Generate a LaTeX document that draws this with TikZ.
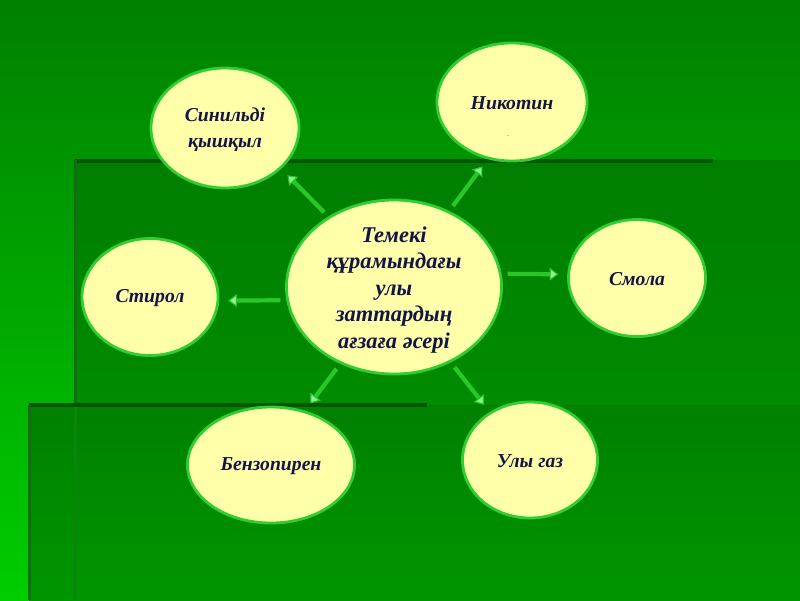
\documentclass[tikz,border=0pt]{standalone}
\usepackage{fontspec}
\setmainfont{Liberation Serif}
\usetikzlibrary{positioning}
\usetikzlibrary{arrows.meta}
\usetikzlibrary{shapes.geometric}

\definecolor{bgdark}{RGB}{0,128,0}
\definecolor{bglight}{RGB}{0,205,0}
\definecolor{paneltop}{RGB}{0,126,0}
\definecolor{panelbot}{RGB}{0,150,0}
\definecolor{edge}{RGB}{0,85,0}
\definecolor{sideedge}{RGB}{25,105,25}
\definecolor{bubblefill}{RGB}{255,255,170}
\definecolor{bubbleline}{RGB}{50,205,50}
\definecolor{arrowgreen}{RGB}{40,200,40}
\definecolor{arrowtip}{RGB}{150,235,150}
\definecolor{inkblue}{RGB}{20,20,70}

\tikzset{
  bubble/.style={ellipse, draw=bubbleline, line width=2pt, fill=bubblefill, inner sep=0pt},
  word/.style={text=inkblue, font=\fontsize{14}{18.5}\selectfont\bfseries\itshape, align=center, inner sep=0pt},
  push/.style={draw=arrowgreen, line width=3pt, shorten <=0.15cm, shorten >=0.22cm,
    -{Triangle[length=0.22cm,width=0.32cm,line width=0.8pt,fill=arrowtip]}}
}

\begin{document}
\begin{tikzpicture}[x=0.025cm, y=-0.025cm]
  \useasboundingbox (0,0) rectangle (800,600);
  % background panels
  \shade[top color=bgdark, bottom color=bglight] (0,0) rectangle (800,600);
  \shade[top color=paneltop, bottom color=panelbot] (75,160) rectangle (800,600);
  \shade[top color=paneltop!90!panelbot, bottom color=panelbot] (29,405) rectangle (800,600);
  \fill[edge] (75,159) rectangle (713,163);
  \fill[sideedge] (74,160) rectangle (77,405);
  \fill[sideedge!40!panelbot] (74,405) rectangle (77,600);
  \fill[edge] (29,403) rectangle (427,407);
  \fill[sideedge] (28,405) rectangle (31,600);

  \node[bubble, minimum width=5.375cm, minimum height=4.35cm] (tem) at (394,287) {};
  \node[word, font=\fontsize{16}{18.8}\selectfont\bfseries\itshape] (temtxt) at (394,290)
    {Темекі\\құрамындағы\\улы\\заттардың\\ағзаға әсері};

  \node[bubble, minimum width=3.7cm, minimum height=3cm] (sin) at (225,128) {};
  \node[word] (sintxt) at (225,130) {Синильді\\қышқыл};
  \node[bubble, minimum width=3.75cm, minimum height=2.95cm] (nik) at (512,102) {};
  \node[word] (niktxt) at (512,103) {Никотин};
  \node[word, font=\tiny] (nikdot) at (508,136) {.};
  \node[bubble, minimum width=3.425cm, minimum height=2.925cm] (smo) at (637,278) {};
  \node[word] (smotxt) at (637,279) {Смола};
  \node[bubble, minimum width=3.4cm, minimum height=2.925cm] (sti) at (150,297) {};
  \node[word] (stitxt) at (150,298) {Стирол};
  \node[bubble, minimum width=4.175cm, minimum height=2.9cm] (ben) at (271,465) {};
  \node[word] (bentxt) at (271,466) {Бензопирен};
  \node[bubble, minimum width=3.375cm, minimum height=2.9cm] (uly) at (530,460) {};
  \node[word] (ulytxt) at (530,461) {Улы газ};

  % arrows out of the middle
  \draw[push] (tem.133) -- (sin.-36);
  \draw[push] (tem.54) -- (nik.-113);
  \draw[push] (tem.7) -- (smo.177);
  \draw[push] (tem.187) -- (sti.-3);
  \draw[push] (tem.235) -- (ben.58);
  \draw[push] (tem.-53) -- (uly.130);
\end{tikzpicture}
\end{document}
